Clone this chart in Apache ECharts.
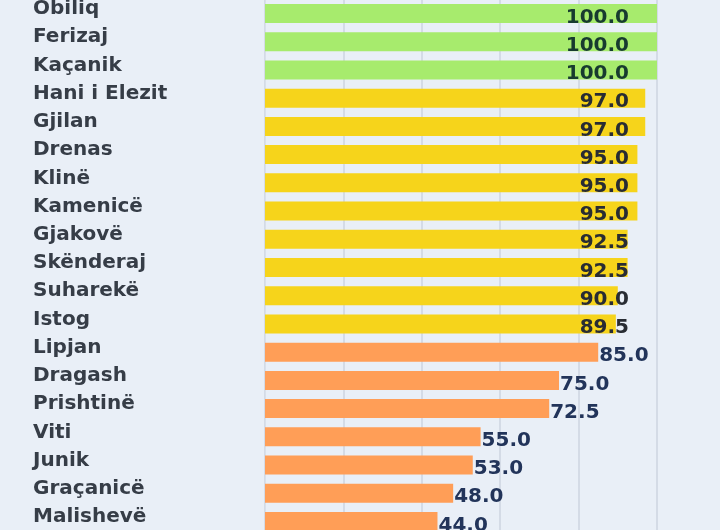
<!DOCTYPE html>
<html>
<head>
<meta charset="utf-8">
<script src="https://cdn.jsdelivr.net/npm/echarts@6/dist/echarts.min.js"></script>
<style>
  html, body { margin: 0; padding: 0; background: #e9eff7; }
  #chart { width: 720px; height: 530px; }
</style>
</head>
<body>
<div id="chart"></div>
<script>
var municipalities = ['Obiliq', 'Ferizaj', 'Kaçanik', 'Hani i Elezit', 'Gjilan', 'Drenas', 'Klinë',
  'Kamenicë', 'Gjakovë', 'Skënderaj', 'Suharekë', 'Istog', 'Lipjan', 'Dragash', 'Prishtinë',
  'Viti', 'Junik', 'Graçanicë', 'Malishevë'];
var scores = [100.0, 100.0, 100.0, 97.0, 97.0, 95.0, 95.0, 95.0, 92.5, 92.5, 90.0, 89.5,
  85.0, 75.0, 72.5, 55.0, 53.0, 48.0, 44.0];
var xTicks = [0, 20, 40, 60, 80, 100];

function tierColor(v) {
  if (v >= 100) return '#a7eb6d';
  if (v >= 89.5) return '#f6d41b';
  return '#ff9e57';
}
function labelColor(v) {
  if (v >= 100) return '#173b2f';
  if (v >= 89.5) return '#282c33';
  return '#22345a';
}

var barData = scores.map(function (v) {
  var inside = v >= 89.5;
  return {
    value: v,
    itemStyle: { color: tierColor(v) },
    label: inside ? {
      position: [364, 13.5],
      align: 'right',
      verticalAlign: 'middle',
      color: labelColor(v)
    } : {
      position: 'right',
      distance: 1,
      offset: [0, 4],
      color: labelColor(v)
    }
  };
});

var chart = echarts.init(document.getElementById('chart'));
chart.setOption({
  backgroundColor: '#e9eff7',
  animation: false,
  grid: { left: 265, right: 63, top: -0.6, height: 536.2, outerBoundsMode: 'none' },
  xAxis: {
    type: 'value',
    min: xTicks[0],
    max: xTicks[xTicks.length - 1],
    interval: 20,
    axisLabel: { show: false },
    axisTick: { show: false },
    axisLine: { show: false },
    splitLine: { lineStyle: { color: '#cdd5e0', width: 1.5 } }
  },
  yAxis: {
    type: 'category',
    inverse: true,
    data: municipalities,
    axisTick: { show: false },
    axisLine: { show: true, lineStyle: { color: '#d9e0ea' } },
    axisLabel: {
      align: 'left',
      verticalAlign: 'bottom',
      lineHeight: 9,
      margin: 232,
      color: '#363d47',
      fontFamily: 'DejaVu Sans',
      fontWeight: 'bold',
      fontSize: 20
    }
  },
  series: [{
    type: 'bar',
    barWidth: 19,
    data: barData,
    label: {
      show: true,
      fontFamily: 'DejaVu Sans',
      fontWeight: 'bold',
      fontSize: 20,
      formatter: function (p) { return p.value.toFixed(1); }
    }
  }]
});
</script>
</body>
</html>
